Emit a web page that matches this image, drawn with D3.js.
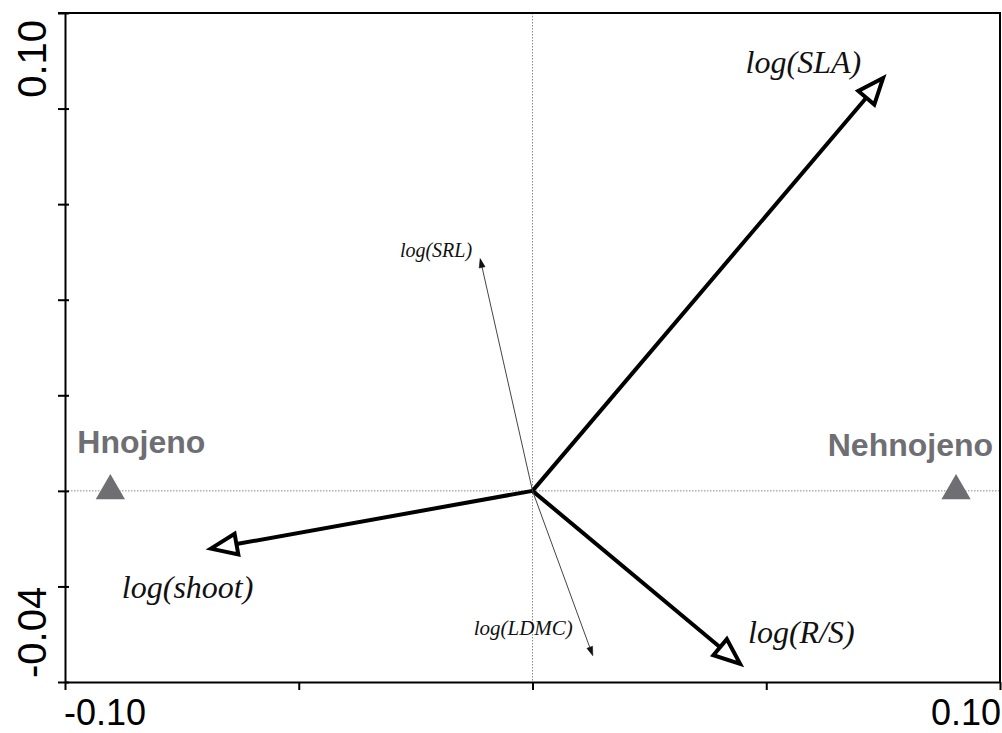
<!DOCTYPE html>
<html>
<head>
<meta charset="utf-8">
<script src="https://cdn.jsdelivr.net/npm/d3@7"></script>
<style>
  body { margin: 0; background: #fff; }
  svg { display: block; }
</style>
</head>
<body>
<script>
// biplot data
const traitNames = ['log(SLA)', 'log(shoot)', 'log(R/S)', 'log(SRL)', 'log(LDMC)'];
const traitX = [0.0750, -0.0688, 0.0444, -0.0112, 0.0129];
const traitY = [0.0864, -0.0121, -0.0362, 0.0486, -0.0345];
const traitMain = [true, true, true, false, false];

const sampleNames = ['Hnojeno', 'Nehnojeno'];
const sampleX = [-0.0903, 0.0906];
const sampleY = [0, 0];

const xTicks = [-0.10, -0.05, 0, 0.05, 0.10];
const yTicks = [-0.04, -0.02, 0, 0.02, 0.04, 0.06, 0.08, 0.10];
const xTickLabels = ['-0.10', '', '', '', '0.10'];
const yTickLabels = ['-0.04', '', '', '', '', '', '', '0.10'];

const width = 1002;
const height = 733;
const margin = {top: 13, right: 2, bottom: 51, left: 65};

const svg = d3.select('body').append('svg')
    .attr('width', width)
    .attr('height', height);

const x = d3.scaleLinear().domain([-0.10, 0.10]).range([margin.left, width - margin.right]);
const y = d3.scaleLinear().domain([-0.04, 0.10]).range([height - margin.bottom, margin.top]);

// dotted cross through the origin
svg.append('line')
    .attr('x1', x(0)).attr('x2', x(0))
    .attr('y1', y.range()[1]).attr('y2', y.range()[0])
    .attr('stroke', '#8a8a8a').attr('stroke-width', 1).attr('stroke-dasharray', '1.5,1.5');
svg.append('line')
    .attr('x1', x.range()[0]).attr('x2', x.range()[1])
    .attr('y1', y(0)).attr('y2', y(0))
    .attr('stroke', '#8a8a8a').attr('stroke-width', 1).attr('stroke-dasharray', '1.5,1.5');

// box: top and right
svg.append('path')
    .attr('d', `M${x.range()[0] - 7},${y.range()[1]}H${x.range()[1]}V${y.range()[0]}`)
    .attr('fill', 'none').attr('stroke', '#000').attr('stroke-width', 2);

// axes
const xAxis = svg.append('g')
    .attr('transform', `translate(0,${y.range()[0]})`)
    .call(d3.axisBottom(x).tickValues(xTicks).tickFormat('').tickSizeInner(8).tickSizeOuter(0));
const yAxis = svg.append('g')
    .attr('transform', `translate(${x.range()[0]},0)`)
    .call(d3.axisLeft(y).tickValues(yTicks).tickFormat('').tickSizeInner(7).tickSizeOuter(0));
[xAxis, yAxis].forEach(a => {
    a.select('.domain').attr('stroke-width', 2).attr('stroke', '#000');
    a.selectAll('.tick line').attr('stroke-width', 2).attr('stroke', '#000');
});
yAxis.selectAll('.tick line').attr('x1', 4);

// end labels of axes
svg.selectAll('.xlab')
    .data(xTicks)
    .enter()
    .append('text')
    .attr('class', 'xlab')
    .attr('x', (d, i) => i === 0 ? x(d) - 1 : x(d) + 1)
    .attr('y', 725)
    .attr('text-anchor', (d, i) => i === 0 ? 'start' : 'end')
    .style('font-family', '"Liberation Sans", Arial, sans-serif')
    .style('font-size', '36px')
    .text((d, i) => xTickLabels[i]);

svg.selectAll('.ylab')
    .data(yTicks)
    .enter()
    .append('text')
    .attr('class', 'ylab')
    .attr('transform', (d, i) => `translate(46,${i === 0 ? y(d) - 4 : y(d) + 7}) rotate(-90)`)
    .attr('text-anchor', (d, i) => i === 0 ? 'start' : 'end')
    .style('font-family', '"Liberation Sans", Arial, sans-serif')
    .style('font-size', '40px')
    .text((d, i) => yTickLabels[i]);

// trait arrows
const arrows = svg.append('g');
traitNames.forEach((name, i) => {
    const x0 = x(0), y0 = y(0);
    const x1 = x(traitX[i]), y1 = y(traitY[i]);
    const len = Math.hypot(x1 - x0, y1 - y0);
    const ux = (x1 - x0) / len, uy = (y1 - y0) / len;
    const headLen = traitMain[i] ? 26 : 9;
    const headW = traitMain[i] ? 10.5 : 3;
    const bx = x1 - ux * headLen, by = y1 - uy * headLen;
    arrows.append('line')
        .attr('x1', x0).attr('y1', y0)
        .attr('x2', bx).attr('y2', by)
        .attr('stroke', traitMain[i] ? '#000' : '#444')
        .attr('stroke-width', traitMain[i] ? 4 : 1);
    arrows.append('path')
        .attr('d', `M${x1},${y1}L${bx - uy * headW},${by + ux * headW}L${bx + uy * headW},${by - ux * headW}Z`)
        .attr('fill', traitMain[i] ? '#fff' : '#111')
        .attr('stroke', '#000')
        .attr('stroke-width', traitMain[i] ? 4 : 0.5)
        .attr('stroke-linejoin', 'miter');
});

// trait labels
const labelPos = {
    'log(SLA)': {dx: -22, dy: -5, anchor: 'end', size: 32},
    'log(shoot)': {dx: -89, dy: 49, anchor: 'start', size: 32},
    'log(R/S)': {dx: 8, dy: -21, anchor: 'start', size: 32},
    'log(SRL)': {dx: -8, dy: -2, anchor: 'end', size: 20},
    'log(LDMC)': {dx: -20, dy: -21, anchor: 'end', size: 21}
};
traitNames.forEach((name, i) => {
    const p = labelPos[name];
    svg.append('text')
        .attr('x', x(traitX[i]) + p.dx)
        .attr('y', y(traitY[i]) + p.dy)
        .attr('text-anchor', p.anchor)
        .style('font-family', '"Liberation Serif", "Times New Roman", serif')
        .style('font-style', 'italic')
        .style('font-size', p.size + 'px')
        .style('fill', '#111')
        .text(name);
});

// sample points
const tri = d3.symbol().type(d3.symbolTriangle).size(370);
svg.selectAll('.sample')
    .data(sampleNames)
    .enter()
    .append('path')
    .attr('class', 'sample')
    .attr('d', tri)
    .attr('transform', (d, i) => `translate(${x(sampleX[i])},${y(sampleY[i])})`)
    .attr('fill', '#6e6e73');

const sampleLab = [{dx: -33, dy: -38, anchor: 'start'}, {dx: 37, dy: -35, anchor: 'end'}];
svg.selectAll('.sampleLab')
    .data(sampleNames)
    .enter()
    .append('text')
    .attr('x', (d, i) => x(sampleX[i]) + sampleLab[i].dx)
    .attr('y', (d, i) => y(sampleY[i]) + sampleLab[i].dy)
    .attr('text-anchor', (d, i) => sampleLab[i].anchor)
    .style('font-family', '"Liberation Sans", Arial, sans-serif')
    .style('font-weight', 'bold')
    .style('font-size', '32px')
    .style('fill', '#6e6e73')
    .text(d => d);
</script>
</body>
</html>
